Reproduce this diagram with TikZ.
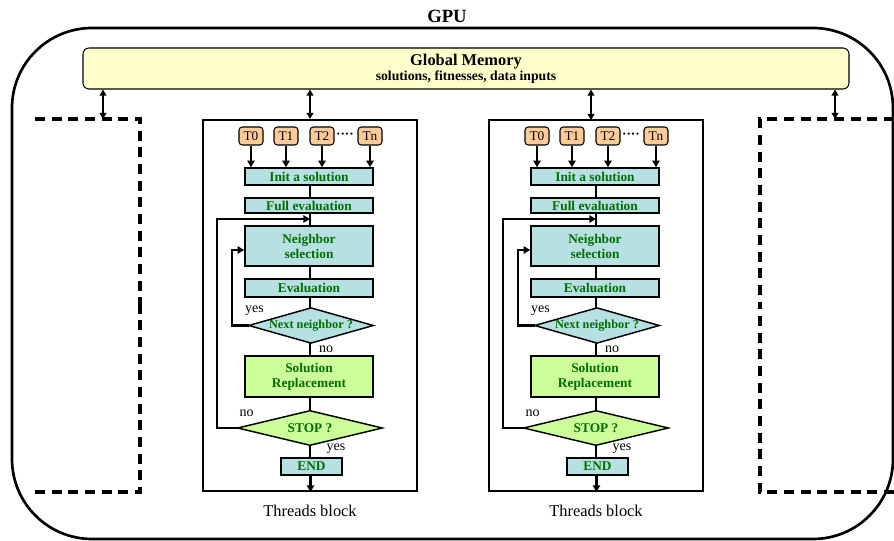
\documentclass[tikz,border=0pt]{standalone}
\usepackage{fontspec}
\setmainfont{Liberation Serif}
\usetikzlibrary{arrows.meta,calc}
\definecolor{memfill}{RGB}{255,255,204}
\definecolor{cyanfill}{RGB}{183,224,227}
\definecolor{greenfill}{RGB}{204,255,153}
\definecolor{thfill}{RGB}{255,204,153}
\definecolor{txtgreen}{RGB}{0,110,0}
\pgfdeclarelayer{bg}
\pgfsetlayers{bg,main}
\begin{document}
\begin{tikzpicture}[x=0.75pt,y=-0.75pt,
  boxtext/.style={text=txtgreen,font=\fontsize{10}{11.3}\selectfont\bfseries,align=center,inner sep=0pt},
  boxc/.style={boxtext,draw,line width=1.1pt,fill=cyanfill,minimum width=96pt},
  boxg/.style={boxtext,draw,line width=1.1pt,fill=greenfill,minimum width=96pt},
  diatext/.style={boxtext,minimum width=#1},
  diaborder/.style={draw,line width=1.1pt,line join=miter},
  thr/.style={draw,line width=0.8pt,fill=thfill,rounded corners=2.5pt,minimum width=18pt,minimum height=13.5pt,inner sep=0pt,font=\fontsize{10}{11}\selectfont},
  link/.style={line width=0.8pt},
  bigarrow/.style={line width=1.8pt,-{Triangle[length=5pt,width=5.5pt]}},
  memarrow/.style={line width=1.6pt,{Triangle[length=4.5pt,width=5pt]}-{Triangle[length=4.5pt,width=5pt]}},
  lab/.style={font=\fontsize{10.5}{11}\selectfont,inner sep=0pt},
  blockbox/.style={draw,line width=1.5pt,minimum width=160.5pt,minimum height=278.25pt,inner sep=0pt},
  dashbox/.style={line width=3pt,dash pattern=on 7.5pt off 5pt},
]
\useasboundingbox (0,0) rectangle (894,541);

% title and outer GPU frame
\node[font=\fontsize{14}{16}\selectfont\bfseries] (gpu) at (447,16) {GPU};
\node[draw,line width=2pt,rounded corners=60pt,minimum width=660.75pt,minimum height=383.25pt,inner sep=0pt] (frame) at (452.5,283.5) {};

% global memory
\node[draw,line width=0.8pt,fill=memfill,rounded corners=4.5pt,minimum width=574.5pt,minimum height=30.75pt,inner sep=0pt,align=center] (mem) at (466,68.5)
  {{\fontsize{12.3}{12}\selectfont\bfseries Global Memory}\\[-0.5pt]{\fontsize{10.3}{11}\selectfont\bfseries solutions, fitnesses, data inputs}};

% dashed neighbour blocks
\coordinate (dashL) at (103,119);
\coordinate (dashR) at (835,119);
\draw[dashbox] (35,119) -- (140,119) -- (140,305);
\draw[dashbox] (35,492) -- (140,492) -- (140,305);
\draw[dashbox] (894,119) -- (760,119) -- (760,305);
\draw[dashbox] (894,492) -- (760,492) -- (760,305);
\draw[memarrow] (mem.south -| dashL) -- (dashL);
\draw[memarrow] (mem.south -| dashR) -- (dashR);

\foreach \b/\dx in {1/0,2/286} {
  \node[blockbox] (blk\b) at (310+\dx,305.5) {};
  \node[font=\fontsize{12.3}{13}\selectfont] (cap\b) at (310+\dx,511) {Threads block};

  \node[thr] (ta\b) at (251+\dx,136) {T0};
  \node[thr] (tb\b) at (286+\dx,136) {T1};
  \node[thr] (tc\b) at (322+\dx,136) {T2};
  \node[font=\fontsize{10}{10}\selectfont\bfseries,inner sep=0pt] (td\b) at (345+\dx,136) {····};
  \node[thr] (tn\b) at (370+\dx,136) {Tn};

  \node[boxc,minimum height=12.75pt] (init\b) at (309+\dx,176.5) {Init a solution};
  \node[boxc,minimum height=11.25pt] (full\b) at (309+\dx,205.5) {Full evaluation};
  \node[boxc,minimum height=30pt] (neigh\b) at (309+\dx,246) {Neighbor\\selection};
  \node[boxc,minimum height=13.5pt] (eval\b) at (309+\dx,288) {Evaluation};
  \node[diatext=93pt,minimum height=26pt,font=\fontsize{9.2}{10}\selectfont\bfseries] (next\b) at (311+\dx,325.5) {Next neighbor ?};
  \node[boxg,minimum height=30.75pt] (sol\b) at (309+\dx,376.5) {Solution\\Replacement};
  \node[diatext=108pt,minimum height=25.5pt] (stop\b) at (310+\dx,428) {STOP ?};
  \node[boxc,minimum width=45.75pt,minimum height=12.75pt] (end\b) at (311.5+\dx,466.5) {END};

  \begin{pgfonlayer}{bg}
    \draw[diaborder,fill=cyanfill] (next\b.west) -- (next\b.north) -- (next\b.east) -- (next\b.south) -- cycle;
    \draw[diaborder,fill=greenfill] (stop\b.west) -- (stop\b.north) -- (stop\b.east) -- (stop\b.south) -- cycle;
  \end{pgfonlayer}

  % thread arrows
  \foreach \t in {ta,tb,tc,tn} {
    \draw[bigarrow] (\t\b.south) -- (\t\b.south |- init\b.north);
  }

  % main flow
  \draw[link] (init\b.south -| 310+\dx,0) -- (full\b.north -| 310+\dx,0);
  \draw[link] (full\b.south -| 310+\dx,0) -- (neigh\b.north -| 310+\dx,0);
  \draw[link] (neigh\b.south -| 310+\dx,0) -- (eval\b.north -| 310+\dx,0);
  \draw[link] (eval\b.south -| 310+\dx,0) -- (next\b.north -| 310+\dx,0);
  \draw[link] (next\b.south -| 310+\dx,0) -- (sol\b.north -| 310+\dx,0);
  \draw[link] (sol\b.south -| 310+\dx,0) -- (stop\b.north);
  \draw[link] (stop\b.south) -- (end\b.north -| stop\b.south);
  \draw[bigarrow] (end\b.south -| 310.5+\dx,0) -- (blk\b.south -| 310.5+\dx,0);

  % loops
  \coordinate (jn\b) at (310+\dx,219);
  \draw[line width=1.8pt,-{Triangle[length=5pt,width=5.5pt]}] (stop\b.west) -| (217+\dx,219) -- (jn\b);
  \draw[line width=1.8pt,-{Triangle[length=5pt,width=5.5pt]}] (next\b.west) -| (232+\dx,250) -- (neigh\b.west |- 0,250);

  % labels
  \node[lab] (ly\b) at (254.5+\dx,311) {yes};
  \node[lab] (ln\b) at (326+\dx,349) {no};
  \node[lab] (lsn\b) at (246.5+\dx,413) {no};
  \node[lab] (lsy\b) at (336+\dx,449) {yes};
}

\draw[memarrow] (mem.south -| blk1.north) -- (blk1.north);
\coordinate (m2) at (591,120);
\draw[memarrow] (mem.south -| m2) -- (m2);
\end{tikzpicture}
\end{document}
